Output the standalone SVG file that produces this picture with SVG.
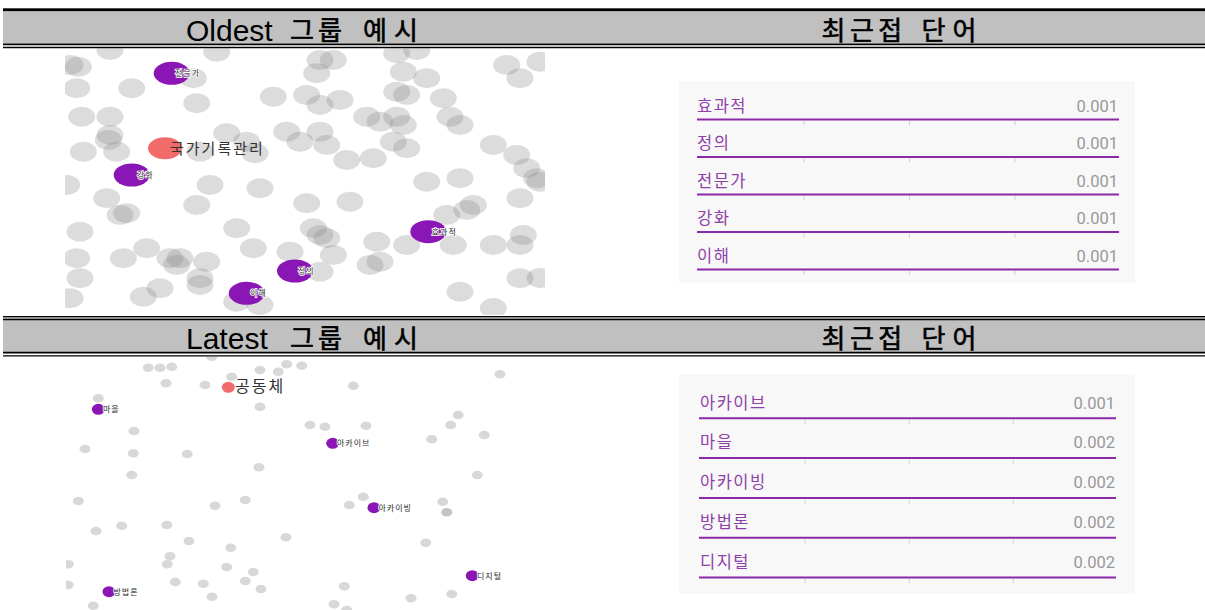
<svg xmlns="http://www.w3.org/2000/svg" width="1205" height="610" viewBox="0 0 1205 610">
<style>
.hdr{fill:#c0c0c0}
.hl{stroke:#000;fill:none}
.lat{font-family:"Liberation Sans",sans-serif;font-size:30px;fill:#000}
.ko{font-family:"Noto Sans CJK KR",sans-serif;font-size:26px;fill:#000;stroke:#000;stroke-width:0.6px;letter-spacing:4px}
.g1{fill:#8c8c8c;fill-opacity:0.3}
.g2{fill:#d8d8d8}
.pur{fill:#8a16b5}
.red{fill:#f26b6b}
.sl{font-family:"Noto Sans CJK KR",sans-serif;font-size:8px;fill:#2a2a2a;stroke:#fff;stroke-width:1.6px;paint-order:stroke;letter-spacing:1px}
.bl{font-family:"Noto Sans CJK KR",sans-serif;fill:#333;letter-spacing:2px}
.panel{fill:#f8f8f8}
.wd{font-family:"Noto Sans CJK KR",sans-serif;font-size:16.5px;fill:#8e3fa8;letter-spacing:1.5px}
.val{font-family:Roboto,"Liberation Sans",sans-serif;font-size:16.5px;fill:#999;text-anchor:end}
.ul{stroke:#8a2aa6;stroke-width:2}
.tk{stroke:#d0d0d0;stroke-width:1}
</style>
<defs>
<clipPath id="c1"><rect x="65" y="48" width="480" height="267"/></clipPath>
<clipPath id="c2"><rect x="66" y="357" width="479" height="253"/></clipPath>
</defs>
<rect width="1205" height="610" fill="#fff"/>

<g id="header-top">
<rect class="hdr" x="3" y="10" width="1202" height="33.5"/>
<rect x="3" y="8.3" width="1202" height="2.8" fill="#000"/>
<line class="hl" x1="3" y1="44.4" x2="1205" y2="44.4" stroke-width="1.8"/>
<line class="hl" x1="3" y1="47.5" x2="1205" y2="47.5" stroke-width="1.3"/>
<text class="lat" x="186" y="40.7">Oldest</text>
<text class="ko" x="290" y="40">그룹</text>
<text class="ko" x="363" y="40" style="letter-spacing:7px">예시</text>
<text class="ko" x="821.5" y="40" style="letter-spacing:4.5px">최근접</text>
<text class="ko" x="921.5" y="40" style="letter-spacing:7px">단어</text>
</g>

<g id="header-bottom">
<rect class="hdr" x="3" y="316" width="1202" height="36"/>
<line class="hl" x1="3" y1="316.6" x2="1205" y2="316.6" stroke-width="1.2"/>
<line class="hl" x1="3" y1="319.4" x2="1205" y2="319.4" stroke-width="1.5"/>
<line class="hl" x1="3" y1="352.6" x2="1205" y2="352.6" stroke-width="1.8"/>
<line class="hl" x1="3" y1="355.8" x2="1205" y2="355.8" stroke-width="1.3"/>
<text class="lat" x="186" y="348.7">Latest</text>
<text class="ko" x="290" y="348">그룹</text>
<text class="ko" x="363" y="348" style="letter-spacing:7px">예시</text>
<text class="ko" x="821.5" y="348" style="letter-spacing:4.5px">최근접</text>
<text class="ko" x="921.5" y="348" style="letter-spacing:7px">단어</text>
</g>

<g id="scatter-oldest" clip-path="url(#c1)">
<g id="gray-oldest">
<ellipse class="g1" cx="110" cy="50" rx="13.5" ry="10"/>
<ellipse class="g1" cx="216.7" cy="51.7" rx="13.5" ry="10"/>
<ellipse class="g1" cx="320" cy="60" rx="13.5" ry="10"/>
<ellipse class="g1" cx="333.3" cy="60" rx="13.5" ry="10"/>
<ellipse class="g1" cx="396.7" cy="53.3" rx="13.5" ry="10"/>
<ellipse class="g1" cx="416.7" cy="50" rx="13.5" ry="10"/>
<ellipse class="g1" cx="70" cy="65" rx="13.5" ry="10"/>
<ellipse class="g1" cx="78.3" cy="66.7" rx="13.5" ry="10"/>
<ellipse class="g1" cx="506.7" cy="65" rx="13.5" ry="10"/>
<ellipse class="g1" cx="540" cy="61.7" rx="13.5" ry="10"/>
<ellipse class="g1" cx="193.3" cy="78.3" rx="13.5" ry="10"/>
<ellipse class="g1" cx="316.7" cy="73.3" rx="13.5" ry="10"/>
<ellipse class="g1" cx="403.3" cy="71.7" rx="13.5" ry="10"/>
<ellipse class="g1" cx="426.7" cy="78.3" rx="13.5" ry="10"/>
<ellipse class="g1" cx="520" cy="78.3" rx="13.5" ry="10"/>
<ellipse class="g1" cx="76.7" cy="88.3" rx="13.5" ry="10"/>
<ellipse class="g1" cx="131.7" cy="88.3" rx="13.5" ry="10"/>
<ellipse class="g1" cx="196.7" cy="103.3" rx="13.5" ry="10"/>
<ellipse class="g1" cx="273.3" cy="96.7" rx="13.5" ry="10"/>
<ellipse class="g1" cx="306.7" cy="95" rx="13.5" ry="10"/>
<ellipse class="g1" cx="320" cy="105" rx="13.5" ry="10"/>
<ellipse class="g1" cx="340" cy="100" rx="13.5" ry="10"/>
<ellipse class="g1" cx="396.7" cy="91.7" rx="13.5" ry="10"/>
<ellipse class="g1" cx="406.7" cy="95" rx="13.5" ry="10"/>
<ellipse class="g1" cx="443.3" cy="98.3" rx="13.5" ry="10"/>
<ellipse class="g1" cx="366.7" cy="116.7" rx="13.5" ry="10"/>
<ellipse class="g1" cx="380" cy="121.7" rx="13.5" ry="10"/>
<ellipse class="g1" cx="396.7" cy="116.7" rx="13.5" ry="10"/>
<ellipse class="g1" cx="403.3" cy="125" rx="13.5" ry="10"/>
<ellipse class="g1" cx="450" cy="116.7" rx="13.5" ry="10"/>
<ellipse class="g1" cx="460" cy="125" rx="13.5" ry="10"/>
<ellipse class="g1" cx="81.7" cy="116.7" rx="13.5" ry="10"/>
<ellipse class="g1" cx="110" cy="116.7" rx="13.5" ry="10"/>
<ellipse class="g1" cx="110" cy="135" rx="13.5" ry="10"/>
<ellipse class="g1" cx="108.3" cy="140" rx="13.5" ry="10"/>
<ellipse class="g1" cx="226.7" cy="133.3" rx="13.5" ry="10"/>
<ellipse class="g1" cx="246.7" cy="141.7" rx="13.5" ry="10"/>
<ellipse class="g1" cx="255" cy="153.3" rx="13.5" ry="10"/>
<ellipse class="g1" cx="286.7" cy="131.7" rx="13.5" ry="10"/>
<ellipse class="g1" cx="300" cy="141.7" rx="13.5" ry="10"/>
<ellipse class="g1" cx="320" cy="131.7" rx="13.5" ry="10"/>
<ellipse class="g1" cx="326.7" cy="145" rx="13.5" ry="10"/>
<ellipse class="g1" cx="393.3" cy="141.7" rx="13.5" ry="10"/>
<ellipse class="g1" cx="406.7" cy="148.3" rx="13.5" ry="10"/>
<ellipse class="g1" cx="493.3" cy="145" rx="13.5" ry="10"/>
<ellipse class="g1" cx="516.7" cy="155" rx="13.5" ry="10"/>
<ellipse class="g1" cx="526.7" cy="168.3" rx="13.5" ry="10"/>
<ellipse class="g1" cx="536.7" cy="178.3" rx="13.5" ry="10"/>
<ellipse class="g1" cx="540" cy="181.7" rx="13.5" ry="10"/>
<ellipse class="g1" cx="83.3" cy="151.7" rx="13.5" ry="10"/>
<ellipse class="g1" cx="116.7" cy="151.7" rx="13.5" ry="10"/>
<ellipse class="g1" cx="200" cy="151.7" rx="13.5" ry="10"/>
<ellipse class="g1" cx="346.7" cy="160" rx="13.5" ry="10"/>
<ellipse class="g1" cx="373.3" cy="158.3" rx="13.5" ry="10"/>
<ellipse class="g1" cx="66.7" cy="185" rx="13.5" ry="10"/>
<ellipse class="g1" cx="210" cy="185" rx="13.5" ry="10"/>
<ellipse class="g1" cx="260" cy="188.3" rx="13.5" ry="10"/>
<ellipse class="g1" cx="196.7" cy="205" rx="13.5" ry="10"/>
<ellipse class="g1" cx="306.7" cy="203.3" rx="13.5" ry="10"/>
<ellipse class="g1" cx="350" cy="201.7" rx="13.5" ry="10"/>
<ellipse class="g1" cx="426.7" cy="181.7" rx="13.5" ry="10"/>
<ellipse class="g1" cx="460" cy="178.3" rx="13.5" ry="10"/>
<ellipse class="g1" cx="520" cy="198.3" rx="13.5" ry="10"/>
<ellipse class="g1" cx="106.7" cy="198.3" rx="13.5" ry="10"/>
<ellipse class="g1" cx="120" cy="215" rx="13.5" ry="10"/>
<ellipse class="g1" cx="126.7" cy="213.3" rx="13.5" ry="10"/>
<ellipse class="g1" cx="446.7" cy="215" rx="13.5" ry="10"/>
<ellipse class="g1" cx="466.7" cy="210" rx="13.5" ry="10"/>
<ellipse class="g1" cx="473.3" cy="205" rx="13.5" ry="10"/>
<ellipse class="g1" cx="80" cy="231.7" rx="13.5" ry="10"/>
<ellipse class="g1" cx="236.7" cy="228.3" rx="13.5" ry="10"/>
<ellipse class="g1" cx="313.3" cy="228.3" rx="13.5" ry="10"/>
<ellipse class="g1" cx="320" cy="235" rx="13.5" ry="10"/>
<ellipse class="g1" cx="326.7" cy="238.3" rx="13.5" ry="10"/>
<ellipse class="g1" cx="376.7" cy="241.7" rx="13.5" ry="10"/>
<ellipse class="g1" cx="406.7" cy="245" rx="13.5" ry="10"/>
<ellipse class="g1" cx="453.3" cy="245" rx="13.5" ry="10"/>
<ellipse class="g1" cx="493.3" cy="245" rx="13.5" ry="10"/>
<ellipse class="g1" cx="523.3" cy="235" rx="13.5" ry="10"/>
<ellipse class="g1" cx="520" cy="245" rx="13.5" ry="10"/>
<ellipse class="g1" cx="76.7" cy="258.3" rx="13.5" ry="10"/>
<ellipse class="g1" cx="123.3" cy="258.3" rx="13.5" ry="10"/>
<ellipse class="g1" cx="146.7" cy="248.3" rx="13.5" ry="10"/>
<ellipse class="g1" cx="170" cy="258.3" rx="13.5" ry="10"/>
<ellipse class="g1" cx="180" cy="258.3" rx="13.5" ry="10"/>
<ellipse class="g1" cx="176.7" cy="265" rx="13.5" ry="10"/>
<ellipse class="g1" cx="206.7" cy="261.7" rx="13.5" ry="10"/>
<ellipse class="g1" cx="253.3" cy="248.3" rx="13.5" ry="10"/>
<ellipse class="g1" cx="290" cy="251.7" rx="13.5" ry="10"/>
<ellipse class="g1" cx="333.3" cy="255" rx="13.5" ry="10"/>
<ellipse class="g1" cx="370" cy="265" rx="13.5" ry="10"/>
<ellipse class="g1" cx="380" cy="261.7" rx="13.5" ry="10"/>
<ellipse class="g1" cx="520" cy="278.3" rx="13.5" ry="10"/>
<ellipse class="g1" cx="80" cy="278.3" rx="13.5" ry="10"/>
<ellipse class="g1" cx="200" cy="278.3" rx="13.5" ry="10"/>
<ellipse class="g1" cx="200" cy="285" rx="13.5" ry="10"/>
<ellipse class="g1" cx="160" cy="288.3" rx="13.5" ry="10"/>
<ellipse class="g1" cx="143.3" cy="296.7" rx="13.5" ry="10"/>
<ellipse class="g1" cx="320" cy="271.7" rx="13.5" ry="10"/>
<ellipse class="g1" cx="70" cy="298.3" rx="13.5" ry="10"/>
<ellipse class="g1" cx="460" cy="291.7" rx="13.5" ry="10"/>
<ellipse class="g1" cx="260" cy="305" rx="13.5" ry="10"/>
<ellipse class="g1" cx="236.7" cy="301.7" rx="13.5" ry="10"/>
<ellipse class="g1" cx="493.3" cy="308" rx="13.5" ry="10"/>
<ellipse class="g1" cx="540" cy="278" rx="13.5" ry="10"/>
</g>
<g id="node-jeonmunga"><ellipse class="pur" cx="171.7" cy="73.3" rx="18" ry="11.5"/><text class="sl" x="175" y="76">전문가</text></g>
<g id="node-gukga"><ellipse class="red" cx="165" cy="148.3" rx="17" ry="11"/><text class="bl" x="170" y="154" font-size="15">국가기록관리</text></g>
<g id="node-ganghwa"><ellipse class="pur" cx="131.7" cy="175" rx="18" ry="11.5"/><text class="sl" x="137" y="178">강화</text></g>
<g id="node-hyogwajeok"><ellipse class="pur" cx="428.3" cy="231.7" rx="18" ry="11.5"/><text class="sl" x="431.7" y="234.5">효과적</text></g>
<g id="node-jeongui"><ellipse class="pur" cx="295" cy="271" rx="18" ry="11.5"/><text class="sl" x="298" y="274">정의</text></g>
<g id="node-ihae"><ellipse class="pur" cx="246.7" cy="293.3" rx="18" ry="11.5"/><text class="sl" x="250" y="296">이해</text></g>
</g>

<g id="scatter-latest" clip-path="url(#c2)">
<g id="gray-latest">
<ellipse class="g2" cx="148.3" cy="367.7" rx="5.5" ry="4.3"/>
<ellipse class="g2" cx="160" cy="367.7" rx="5.5" ry="4.3"/>
<ellipse class="g2" cx="171.7" cy="366.7" rx="5.5" ry="4.3"/>
<ellipse class="g2" cx="211.7" cy="356.7" rx="5.5" ry="4.3"/>
<ellipse class="g2" cx="260" cy="370" rx="5.5" ry="4.3"/>
<ellipse class="g2" cx="278.3" cy="371.7" rx="5.5" ry="4.3"/>
<ellipse class="g2" cx="286.7" cy="364.3" rx="5.5" ry="4.3"/>
<ellipse class="g2" cx="301.7" cy="365.7" rx="5.5" ry="4.3"/>
<ellipse class="g2" cx="231.7" cy="376.7" rx="5.5" ry="4.3"/>
<ellipse class="g2" cx="166" cy="383.3" rx="5.5" ry="4.3"/>
<ellipse class="g2" cx="205" cy="385" rx="5.5" ry="4.3"/>
<ellipse class="g2" cx="353.3" cy="385.7" rx="5.5" ry="4.3"/>
<ellipse class="g2" cx="500" cy="374.3" rx="5.5" ry="4.3"/>
<ellipse class="g2" cx="98.3" cy="398.3" rx="5.5" ry="4.3"/>
<ellipse class="g2" cx="260" cy="406.7" rx="5.5" ry="4.3"/>
<ellipse class="g2" cx="310" cy="425" rx="5.5" ry="4.3"/>
<ellipse class="g2" cx="325" cy="426.7" rx="5.5" ry="4.3"/>
<ellipse class="g2" cx="366" cy="425.7" rx="5.5" ry="4.3"/>
<ellipse class="g2" cx="458.3" cy="415" rx="5.5" ry="4.3"/>
<ellipse class="g2" cx="450.7" cy="425" rx="5.5" ry="4.3"/>
<ellipse class="g2" cx="134" cy="431" rx="5.5" ry="4.3"/>
<ellipse class="g2" cx="431.7" cy="439.3" rx="5.5" ry="4.3"/>
<ellipse class="g2" cx="484.3" cy="435" rx="5.5" ry="4.3"/>
<ellipse class="g2" cx="85" cy="449" rx="5.5" ry="4.3"/>
<ellipse class="g2" cx="133.3" cy="453.3" rx="5.5" ry="4.3"/>
<ellipse class="g2" cx="187.3" cy="454" rx="5.5" ry="4.3"/>
<ellipse class="g2" cx="259" cy="467.3" rx="5.5" ry="4.3"/>
<ellipse class="g2" cx="131.7" cy="475" rx="5.5" ry="4.3"/>
<ellipse class="g2" cx="477.3" cy="475" rx="5.5" ry="4.3"/>
<ellipse class="g2" cx="78.3" cy="501" rx="5.5" ry="4.3"/>
<ellipse class="g2" cx="215" cy="505.7" rx="5.5" ry="4.3"/>
<ellipse class="g2" cx="245.3" cy="500" rx="5.5" ry="4.3"/>
<ellipse class="g2" cx="349.3" cy="505" rx="5.5" ry="4.3"/>
<ellipse class="g2" cx="363.3" cy="496.7" rx="5.5" ry="4.3"/>
<ellipse class="g2" cx="442.7" cy="501.7" rx="5.5" ry="4.3"/>
<ellipse cx="446.7" cy="512.3" rx="5.5" ry="4.3" fill="#c4c4c4"/>
<ellipse class="g2" cx="96" cy="531" rx="5.5" ry="4.3"/>
<ellipse class="g2" cx="121.7" cy="525.7" rx="5.5" ry="4.3"/>
<ellipse class="g2" cx="166.7" cy="525" rx="5.5" ry="4.3"/>
<ellipse class="g2" cx="189" cy="541" rx="5.5" ry="4.3"/>
<ellipse class="g2" cx="286" cy="537.3" rx="5.5" ry="4.3"/>
<ellipse class="g2" cx="425.7" cy="542.7" rx="5.5" ry="4.3"/>
<ellipse class="g2" cx="230.7" cy="547.7" rx="5.5" ry="4.3"/>
<ellipse class="g2" cx="170" cy="556.3" rx="5.5" ry="4.3"/>
<ellipse class="g2" cx="167.3" cy="564.3" rx="5.5" ry="4.3"/>
<ellipse class="g2" cx="226.7" cy="567" rx="5.5" ry="4.3"/>
<ellipse class="g2" cx="253.3" cy="572" rx="5.5" ry="4.3"/>
<ellipse class="g2" cx="68.3" cy="564.3" rx="5.5" ry="4.3"/>
<ellipse class="g2" cx="175.3" cy="582" rx="5.5" ry="4.3"/>
<ellipse class="g2" cx="203.3" cy="583.7" rx="5.5" ry="4.3"/>
<ellipse class="g2" cx="245.3" cy="581" rx="5.5" ry="4.3"/>
<ellipse class="g2" cx="261" cy="589" rx="5.5" ry="4.3"/>
<ellipse class="g2" cx="344.3" cy="586.3" rx="5.5" ry="4.3"/>
<ellipse class="g2" cx="68.3" cy="585" rx="5.5" ry="4.3"/>
<ellipse class="g2" cx="212" cy="596.7" rx="5.5" ry="4.3"/>
<ellipse class="g2" cx="411" cy="598.3" rx="5.5" ry="4.3"/>
<ellipse class="g2" cx="451.7" cy="594" rx="5.5" ry="4.3"/>
<ellipse class="g2" cx="93.3" cy="605.7" rx="5.5" ry="4.3"/>
<ellipse class="g2" cx="334" cy="604.3" rx="5.5" ry="4.3"/>
<ellipse class="g2" cx="346.7" cy="610" rx="5.5" ry="4.3"/>
</g>
<g id="node-gongdongche"><ellipse class="red" cx="228.3" cy="387.3" rx="6.5" ry="5.5"/><text class="bl" x="235" y="392" font-size="16">공동체</text></g>
<g id="node-maeul"><ellipse class="pur" cx="98.3" cy="409.3" rx="6.5" ry="5.5"/><text class="sl" x="103" y="412.3">마을</text></g>
<g id="node-archive"><ellipse class="pur" cx="332.7" cy="443.3" rx="6.5" ry="5.5"/><text class="sl" x="337" y="446.3">아카이브</text></g>
<g id="node-archiving"><ellipse class="pur" cx="374" cy="507.7" rx="6.5" ry="5.5"/><text class="sl" x="378.5" y="510.7">아카이빙</text></g>
<g id="node-digital"><ellipse class="pur" cx="472.3" cy="575.7" rx="6.5" ry="5.5"/><text class="sl" x="477" y="578.7">디지털</text></g>
<g id="node-methodology"><ellipse class="pur" cx="109" cy="591.7" rx="6.5" ry="5.5"/><text class="sl" x="113.5" y="594.7">방법론</text></g>
</g>

<g id="list-oldest">
<rect class="panel" x="679" y="81" width="456" height="202"/>
<g id="row-o1"><text class="wd" x="697" y="111.5">효과적</text><text class="val" x="1118" y="111.5">0.001</text><line class="ul" x1="697" y1="119.5" x2="1119" y2="119.5"/></g>
<g id="row-o2"><text class="wd" x="697" y="149">정의</text><text class="val" x="1118" y="149">0.001</text><line class="ul" x1="697" y1="157" x2="1119" y2="157"/></g>
<g id="row-o3"><text class="wd" x="697" y="186.5">전문가</text><text class="val" x="1118" y="186.5">0.001</text><line class="ul" x1="697" y1="194.5" x2="1119" y2="194.5"/></g>
<g id="row-o4"><text class="wd" x="697" y="224">강화</text><text class="val" x="1118" y="224">0.001</text><line class="ul" x1="697" y1="232" x2="1119" y2="232"/></g>
<g id="row-o5"><text class="wd" x="697" y="261.5">이해</text><text class="val" x="1118" y="261.5">0.001</text><line class="ul" x1="697" y1="269.5" x2="1119" y2="269.5"/></g>
<g id="ticks-o">
<path class="tk" d="M804 121v4M909.5 121v4M1015 121v4M804 158.5v4M909.5 158.5v4M1015 158.5v4M804 196v4M909.5 196v4M1015 196v4M804 233.5v4M909.5 233.5v4M1015 233.5v4M804 271v4M909.5 271v4M1015 271v4"/>
</g>
</g>

<g id="list-latest">
<rect class="panel" x="679" y="374" width="456" height="220"/>
<g id="row-l1"><text class="wd" x="700" y="408.5">아카이브</text><text class="val" x="1115" y="408.5">0.001</text><line class="ul" x1="699" y1="418.3" x2="1116" y2="418.3"/></g>
<g id="row-l2"><text class="wd" x="700" y="448.3">마을</text><text class="val" x="1115" y="448.3">0.002</text><line class="ul" x1="699" y1="458.1" x2="1116" y2="458.1"/></g>
<g id="row-l3"><text class="wd" x="700" y="488.1">아카이빙</text><text class="val" x="1115" y="488.1">0.002</text><line class="ul" x1="699" y1="497.9" x2="1116" y2="497.9"/></g>
<g id="row-l4"><text class="wd" x="700" y="527.9">방법론</text><text class="val" x="1115" y="527.9">0.002</text><line class="ul" x1="699" y1="537.7" x2="1116" y2="537.7"/></g>
<g id="row-l5"><text class="wd" x="700" y="567.7">디지털</text><text class="val" x="1115" y="567.7">0.002</text><line class="ul" x1="699" y1="577.5" x2="1116" y2="577.5"/></g>
<g id="ticks-l">
<path class="tk" d="M805 420v4M909.3 420v4M1013.3 420v4M805 459.8v4M909.3 459.8v4M1013.3 459.8v4M805 499.6v4M909.3 499.6v4M1013.3 499.6v4M805 539.4v4M909.3 539.4v4M1013.3 539.4v4M805 579.2v4M909.3 579.2v4M1013.3 579.2v4"/>
</g>
</g>
</svg>
